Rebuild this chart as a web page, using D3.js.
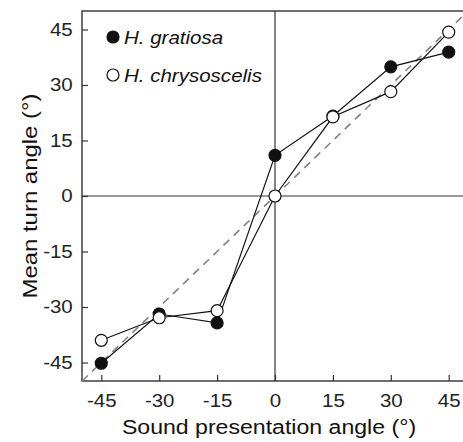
<!DOCTYPE html>
<html>
<head>
<meta charset="utf-8">
<script src="https://cdn.jsdelivr.net/npm/d3@7"></script>
<style>
  body { margin: 0; background: #fff; }
  text { font-family: "Liberation Sans", Arial, sans-serif; }
</style>
</head>
<body>
<div id="chart"></div>
<script>
// sound presentation angles (deg)
const angles = [-45, -30, -15, 0, 15, 30, 45];
// mean turn angles
const gratiosa = [-45.2, -31.9, -34.3, 11, 21.6, 34.9, 38.9];
const chrysoscelis = [-39, -32.9, -31, 0, 21.4, 28.2, 44.3];
const tickValues = [-45, -30, -15, 0, 15, 30, 45];
const seriesNames = ["H. gratiosa", "H. chrysoscelis"];

const width = 463, height = 442;
const margin = {top: 11, right: -5, bottom: 61, left: 82};
// the source lettering is a little wider than Liberation Sans
const stretch = 1.17;

const svg = d3.select("#chart").append("svg")
  .attr("width", width)
  .attr("height", height);

const x = d3.scaleLinear().domain([-50, 50]).range([margin.left, width - margin.right]);
const y = d3.scaleLinear().domain([-50, 50]).range([height - margin.bottom, margin.top]);

// frame
svg.append("rect")
  .attr("x", x(-50)).attr("y", y(50))
  .attr("width", x(50) - x(-50)).attr("height", y(-50) - y(50))
  .attr("fill", "none").attr("stroke", "#222").attr("stroke-width", 1.3);

// unity line
svg.append("line")
  .attr("x1", x(-50)).attr("y1", y(-50))
  .attr("x2", x(50)).attr("y2", y(50))
  .attr("stroke", "#808080").attr("stroke-width", 1.6)
  .attr("stroke-dasharray", "8,6");

// zero lines
svg.append("line")
  .attr("x1", x(0)).attr("x2", x(0)).attr("y1", y(50)).attr("y2", y(-50))
  .attr("stroke", "#333").attr("stroke-width", 1.2);
svg.append("line")
  .attr("x1", x(-50)).attr("x2", x(50)).attr("y1", y(0)).attr("y2", y(0))
  .attr("stroke", "#333").attr("stroke-width", 1.2);

// axes, ticks point inward; plain hyphen for negatives
const fmt = function(d) { return String(d); };
const xAxis = svg.append("g")
  .attr("transform", "translate(0," + y(-50) + ")")
  .call(d3.axisBottom(x).tickValues(tickValues).tickFormat(fmt).tickSize(-6).tickPadding(13.5));
const yAxis = svg.append("g")
  .attr("transform", "translate(" + x(-50) + ",0)")
  .call(d3.axisLeft(y).tickValues(tickValues).tickFormat(fmt).tickSize(-6).tickPadding(9.3));

[xAxis, yAxis].forEach(function(a) {
  a.select(".domain").remove();
  a.selectAll(".tick line").attr("stroke", "#333").attr("stroke-width", 1.2);
  a.selectAll(".tick text")
    .style("font-family", "'Liberation Sans', Arial, sans-serif")
    .style("font-size", "17.5px")
    .attr("fill", "#222")
    .attr("x", function() { return +d3.select(this).attr("x") / stretch; })
    .attr("transform", "scale(" + stretch + ",1)");
});

// axis titles
svg.append("text")
  .attr("transform", "translate(269,434) scale(1.1,1)")
  .attr("text-anchor", "middle")
  .style("font-size", "21px")
  .attr("fill", "#111")
  .text("Sound presentation angle (°)");

svg.append("text")
  .attr("transform", "translate(37,196) rotate(-90) scale(1.14,1)")
  .attr("text-anchor", "middle")
  .style("font-size", "21px")
  .attr("fill", "#111")
  .text("Mean turn angle (°)");

// series
const line = d3.line()
  .x(function(d) { return x(d[0]); })
  .y(function(d) { return y(d[1]); });

const series = [
  {name: seriesNames[0], values: gratiosa, fill: "#111"},
  {name: seriesNames[1], values: chrysoscelis, fill: "#fff"}
];

series.forEach(function(s) {
  const pts = angles.map(function(a, i) { return [a, s.values[i]]; });
  svg.append("path")
    .datum(pts)
    .attr("d", line)
    .attr("fill", "none")
    .attr("stroke", "#111")
    .attr("stroke-width", 1.2);
  svg.selectAll(null)
    .data(pts)
    .enter().append("circle")
      .attr("cx", function(d) { return x(d[0]); })
      .attr("cy", function(d) { return y(d[1]); })
      .attr("r", 6)
      .attr("fill", s.fill)
      .attr("stroke", "#111")
      .attr("stroke-width", 1.2);
});

// legend
const legend = svg.append("g").attr("transform", "translate(113,37)");
series.forEach(function(s, i) {
  const row = legend.append("g").attr("transform", "translate(0," + (i * 38) + ")");
  row.append("circle")
    .attr("r", 6)
    .attr("fill", s.fill)
    .attr("stroke", "#111")
    .attr("stroke-width", 1.2);
  row.append("text")
    .attr("transform", "translate(11,7) scale(1.08,1)")
    .style("font-size", "19px")
    .style("font-style", "italic")
    .attr("fill", "#111")
    .text(s.name);
});
</script>
</body>
</html>
